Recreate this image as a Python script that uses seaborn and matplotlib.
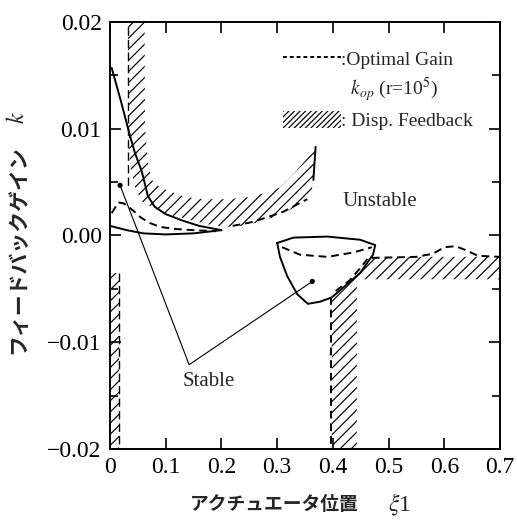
import matplotlib
matplotlib.use('Agg')
import matplotlib.pyplot as plt
import seaborn as sns
from matplotlib.lines import Line2D
from matplotlib.patches import Patch

# ---- data ----
# upper U-shaped hatched band (displacement feedback), lower/outer edge
u_outer_x = [0.032, 0.033, 0.036, 0.045, 0.057, 0.08, 0.11, 0.14, 0.18, 0.21, 0.24, 0.27, 0.305, 0.34, 0.362, 0.366, 0.369]
u_outer_y = [0.0200, 0.0100, 0.0065, 0.0045, 0.0032, 0.0025, 0.0019, 0.0015, 0.0010, 0.0008, 0.0009, 0.0013, 0.0019, 0.0029, 0.0042, 0.0060, 0.0083]
# upper/inner edge of the same band
u_inner_x = [0.062, 0.063, 0.068, 0.075, 0.09, 0.11, 0.135, 0.17, 0.21, 0.25, 0.28, 0.305, 0.33, 0.35, 0.369]
u_inner_y = [0.0200, 0.0100, 0.0068, 0.0052, 0.0045, 0.0041, 0.0036, 0.0034, 0.0034, 0.0036, 0.0040, 0.0045, 0.0058, 0.0070, 0.0083]

# L-shaped hatched region lower right
l_x = [0.398, 0.398, 0.418, 0.449, 0.470, 0.70, 0.70, 0.443, 0.443]
l_y = [-0.020, -0.0058, -0.0049, -0.0035, -0.0020, -0.0020, -0.0041, -0.0041, -0.020]

# thin hatched strip at the left axis
s_x = [0.0, 0.0, 0.016, 0.016]
s_y = [-0.020, -0.0035, -0.0035, -0.020]

# solid boundaries, top left (two branches meeting at the tip)
sol_a_x = [0.003, 0.02, 0.035, 0.045, 0.057, 0.068, 0.08, 0.10, 0.13, 0.16, 0.20]
sol_a_y = [0.0157, 0.0125, 0.0095, 0.0077, 0.0060, 0.0037, 0.0027, 0.0020, 0.0014, 0.0009, 0.0005]
sol_b_x = [0.0, 0.03, 0.06, 0.10, 0.15, 0.20]
sol_b_y = [0.0009, 0.0005, 0.0002, 0.0001, 0.0002, 0.0005]
# solid right edge of the U arm
arm_x = [0.369, 0.367, 0.365]
arm_y = [0.0083, 0.0068, 0.0052]

# closed solid bowl
bowl_x = [0.300, 0.329, 0.39, 0.449, 0.476, 0.472, 0.449, 0.418, 0.398, 0.377, 0.355, 0.336, 0.318, 0.305, 0.300]
bowl_y = [-0.0007, -0.0002, -0.0001, -0.0004, -0.0009, -0.0018, -0.0035, -0.0049, -0.0058, -0.0062, -0.0064, -0.0055, -0.0038, -0.0020, -0.0007]

# optimal gain k_op (dashed)
opt_a_x = [0.003, 0.015, 0.025, 0.04, 0.055, 0.07, 0.09, 0.12, 0.15, 0.19]
opt_a_y = [0.0021, 0.0031, 0.0030, 0.0024, 0.0017, 0.0012, 0.0008, 0.0006, 0.0005, 0.0004]
opt_b_x = [0.22, 0.25, 0.27, 0.31, 0.354]
opt_b_y = [0.0009, 0.0012, 0.0015, 0.0022, 0.0034]
opt_c_x = [0.309, 0.341, 0.39, 0.436, 0.47]
opt_c_y = [-0.0011, -0.0018, -0.0020, -0.0016, -0.0011]
opt_d_x = [0.405, 0.43, 0.45, 0.462]
opt_d_y = [-0.0052, -0.0042, -0.0030, -0.0022]
opt_e_x = [0.47, 0.55, 0.58, 0.60, 0.62, 0.64, 0.66, 0.70]
opt_e_y = [-0.0021, -0.0020, -0.0017, -0.0011, -0.0010, -0.0014, -0.0019, -0.0020]
edge_x = [0.397, 0.397]
edge_y = [-0.0058, -0.020]
edge2_x = [0.032, 0.032]
edge2_y = [0.0195, 0.0045]
edge3_x = [0.016, 0.016]
edge3_y = [-0.0035, -0.020]

# "Stable" pointer: dot, vertex, dot
ptr_x = [0.018, 0.142, 0.363]
ptr_y = [0.0047, -0.0121, -0.0043]
dot_x = [0.018, 0.363]
dot_y = [0.0047, -0.0043]

xticks = [0, 0.1, 0.2, 0.3, 0.4, 0.5, 0.6, 0.7]
xlabels = ['0', '0.1', '0.2', '0.3', '0.4', '0.5', '0.6', '0.7']
yticks = [-0.02, -0.01, 0.0, 0.01, 0.02]
ylabels = ['\u22120.02', '\u22120.01', '0.00', '0.01', '0.02']

sns.set_style("ticks")
plt.rcParams['font.family'] = ['Liberation Serif', 'Noto Sans CJK JP']
plt.rcParams['mathtext.fontset'] = 'stix'
plt.rcParams['hatch.linewidth'] = 0.85

fig = plt.figure(figsize=(5.17, 5.31), dpi=100)
ax = fig.add_axes([0.2128, 0.1544, 0.7544, 0.8042])

hatch = '///'
ax.fill(u_outer_x + u_inner_x[::-1], u_outer_y + u_inner_y[::-1],
        facecolor='none', edgecolor='black', hatch=hatch, linewidth=0)
ax.fill(l_x, l_y, facecolor='none', edgecolor='black', hatch=hatch, linewidth=0)
ax.fill(s_x, s_y, facecolor='none', edgecolor='black', hatch=hatch, linewidth=0)

solid = dict(color='black', linewidth=1.4, sort=False, estimator=None, ax=ax)
for xs, ys in [(sol_a_x, sol_a_y), (sol_b_x, sol_b_y), (arm_x, arm_y), (bowl_x, bowl_y)]:
    sns.lineplot(x=xs, y=ys, **solid)

dashed = dict(color='black', linewidth=1.4, sort=False, estimator=None, ax=ax)
for xs, ys in [(opt_a_x, opt_a_y), (opt_b_x, opt_b_y), (opt_c_x, opt_c_y),
               (opt_d_x, opt_d_y), (opt_e_x, opt_e_y), (edge_x, edge_y)]:
    line = sns.lineplot(x=xs, y=ys, **dashed).lines[-1]
    line.set_dashes((4, 2.5))
for xs, ys in [(edge2_x, edge2_y), (edge3_x, edge3_y)]:
    line = sns.lineplot(x=xs, y=ys, color='black', linewidth=1.0, sort=False,
                        estimator=None, ax=ax).lines[-1]
    line.set_dashes((6, 3))

sns.lineplot(x=ptr_x, y=ptr_y, color='black', linewidth=0.8, sort=False, estimator=None, ax=ax)
sns.scatterplot(x=dot_x, y=dot_y, color='black', s=14, edgecolor='none', ax=ax, zorder=5)

ax.text(0.178, -0.0137, 'Stable', fontsize=15, ha='center', va='center')
ax.text(0.485, 0.0032, 'Unstable', fontsize=15, ha='center', va='center')

handles = [Line2D([], [], color='black', linewidth=1.4, dashes=(2, 1.5)),
           Line2D([], [], color='none'),
           Patch(facecolor='white', edgecolor='black', hatch='//////', linewidth=0)]
labels = [':Optimal Gain', '  $k_{op}$ (r=10$^5$)', ': Disp. Feedback']
ax.legend(handles, labels, loc='upper left', bbox_to_anchor=(0.443, 0.935), frameon=False,
          fontsize=14, handlelength=3.0, handleheight=1.0, handletextpad=0.0,
          labelspacing=0.35, borderpad=0, borderaxespad=0)

ax.set_xlim(0, 0.7)
ax.set_ylim(-0.02, 0.02)
ax.set_xticks(xticks)
ax.set_xticklabels(xlabels)
ax.set_yticks(yticks)
ax.set_yticklabels(ylabels)
ax.set_yticks([-0.015, -0.005, 0.005, 0.015], minor=True)
ax.tick_params(axis='both', which='both', direction='in', top=True, right=True,
               labelsize=17, width=1.2, color='black', labelcolor='black')
ax.tick_params(which='major', length=8, pad=6)
ax.tick_params(which='minor', length=6)
for sp in ax.spines.values():
    sp.set_linewidth(1.4)
    sp.set_color('black')
ax.set_xlabel('')
ax.set_ylabel('')

fig.text(0.035, 0.529, 'フィードバックゲイン', rotation=90, family='Noto Sans CJK JP',
         fontsize=15, fontweight='bold', ha='center', va='center')
fig.text(0.035, 0.778, '$k$', rotation=90, fontsize=17, ha='center', va='center')
fig.text(0.53, 0.049, 'アクチュエータ位置', family='Noto Sans CJK JP',
         fontsize=13.5, fontweight='bold', ha='center', va='center')
fig.text(0.772, 0.049, '$\\xi$1', fontsize=17, ha='center', va='center')

plt.savefig('out.png', dpi=100)
plt.close()
